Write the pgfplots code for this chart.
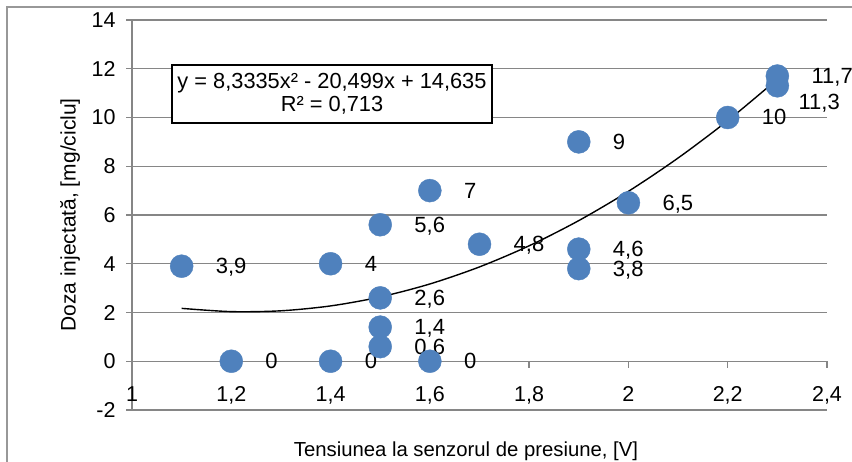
\documentclass[border=0pt]{standalone}
\usepackage{pgfplots}
\pgfplotsset{compat=1.18}
\usepackage{fontspec}
\setmainfont{Liberation Sans}
\definecolor{dotblue}{HTML}{4F81BD}
\definecolor{gridgray}{HTML}{868686}
\newcommand{\tickfont}{\fontsize{21.5}{24}\selectfont}
\newcommand{\labelfont}{\fontsize{22}{25}\selectfont}
\newcommand{\titlefont}{\fontsize{20.3}{24}\selectfont}

\begin{document}
\begin{tikzpicture}[x=1pt,y=1pt]
\useasboundingbox (0,0) rectangle (852,461);
\fill[white] (0,0) rectangle (852,461);
\draw[gridgray!85, line width=1.3pt] (7,-5) -- (7,454) -- (860,454);
\begin{axis}[
  at={(132pt,51pt)}, anchor=south west,
  scale only axis, width=695pt, height=390pt,
  xmin=1, xmax=2.4, ymin=-2, ymax=14,
  axis x line*=middle, axis y line*=left,
  hide obscured x ticks=false, hide obscured y ticks=false,
  xtick={1,1.2,1.4,1.6,1.8,2,2.2,2.4},
  ytick={-2,0,2,4,6,8,10,12,14},
  ymajorgrids,
  grid style={gridgray, line width=1.2pt},
  axis line style={gridgray, line width=1.2pt},
  tick style={gridgray, line width=1.2pt},
  major tick length=6pt, tick align=outside,
  /pgf/number format/.cd, use comma, 1000 sep={}, assume math mode=true,
  /pgfplots/.cd,
  ticklabel style={font=\tickfont, text=black},
  xticklabel style={anchor=base, yshift=-34pt},
  yticklabel style={anchor=east, xshift=-7pt},
  clip=false,
]
% short downward ticks on the horizontal axis line
\pgfplotsinvokeforeach{1.2,1.4,1.6,1.8,2,2.2,2.4}{
  \draw[gridgray, line width=1.3pt] (axis cs:#1,0) -- (axis cs:#1,-0.26);
}
% measured doses
\addplot[only marks, mark=*, mark size=11.5pt,
  mark options={fill=dotblue, draw=dotblue},
  point meta=y,
  nodes near coords={\pgfmathprintnumber[use comma]{\pgfplotspointmeta}},
  nodes near coords style={anchor=base west, xshift=34pt, yshift=-7.5pt,
    inner sep=0pt, font=\labelfont, text=black}]
  coordinates {
  (1.1,3.9) (1.2,0) (1.4,4) (1.4,0) (1.5,5.6) (1.5,2.6) (1.5,1.4)
  (1.5,0.6) (1.6,7) (1.6,0) (1.7,4.8) (1.9,9) (1.9,4.6) (1.9,3.8)
  (2.0,6.5) (2.2,10) (2.3,11.7)};
% overlapping point, label moved down
\addplot[only marks, mark=*, mark size=11.5pt,
  mark options={fill=dotblue, draw=dotblue},
  point meta=y,
  nodes near coords={\pgfmathprintnumber[use comma]{\pgfplotspointmeta}},
  nodes near coords style={anchor=base west, xshift=21pt, yshift=-24pt,
    inner sep=0pt, font=\labelfont, text=black}]
  coordinates {(2.3,11.3)};
% second-order polynomial trend
\addplot[black, line width=1.4pt, smooth] coordinates {
  (1.1,2.1696) (1.2,2.0364) (1.3,2.0699) (1.4,2.2701) (1.5,2.6369)
  (1.6,3.1704) (1.7,3.8705) (1.8,4.7373) (1.9,5.7708) (2.0,6.9710)
  (2.1,8.3378) (2.2,9.8713) (2.3,11.5715)};
\end{axis}
\node[draw=black, line width=1.2pt, fill=white, minimum width=320pt,
  minimum height=58pt, align=center, inner sep=0pt,
  font=\fontsize{21.8}{23}\selectfont]
  at (332,367) {y = 8,3335x² - 20,499x + 14,635\\R² = 0,713};
\node[rotate=90, font=\fontsize{21}{24}\selectfont] at (70,246) {Doza injectată, [mg/ciclu]};
\node[anchor=base, font=\titlefont] at (466,4.5) {Tensiunea la senzorul de presiune, [V]};
\end{tikzpicture}
\end{document}
